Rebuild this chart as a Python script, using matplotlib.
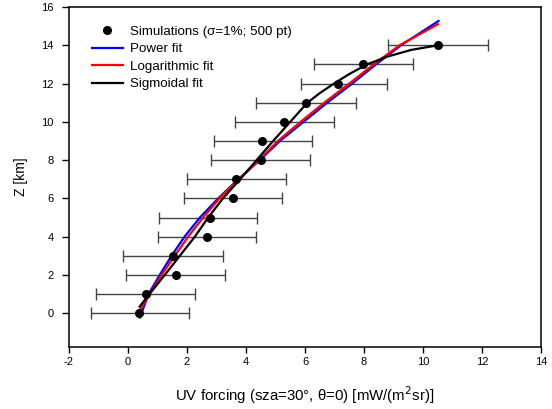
import numpy as np
import matplotlib
matplotlib.use("Agg")
import matplotlib.pyplot as plt

plt.rcParams["font.family"] = ["Liberation Sans", "DejaVu Sans"]
plt.rcParams["axes.unicode_minus"] = False

# simulated points (x = UV forcing, z = altitude)
z_pts = [0, 1, 2, 3, 4, 5, 6, 7, 8, 9, 10, 11, 12, 13, 14]
x_pts = [0.38, 0.60, 1.63, 1.53, 2.68, 2.78, 3.56, 3.66, 4.50, 4.56, 5.29, 6.05, 7.11, 7.98, 10.5]
bar_lo = [-1.25, -1.08, -0.06, -0.15, 1.03, 1.06, 1.91, 2.01, 2.83, 2.92, 3.62, 4.35, 5.86, 6.32, 8.82]
bar_hi = [2.07, 2.26, 3.29, 3.21, 4.34, 4.37, 5.23, 5.36, 6.16, 6.25, 6.97, 7.73, 8.78, 9.67, 12.19]

# fit curves
z_pow = [-0.22, 1, 2, 3, 4, 5, 6, 7, 8, 9, 10, 11, 12, 13, 14, 15.27]
x_pow = [0.41, 0.70, 1.08, 1.48, 1.92, 2.44, 3.06, 3.74, 4.47, 5.15, 5.95, 6.75, 7.60, 8.40, 9.25, 10.52]

z_log = [0.25, 1, 2, 3, 4, 5, 6, 7, 8, 9, 10, 11, 12, 13, 14, 15.1]
x_log = [0.44, 0.74, 1.14, 1.59, 2.04, 2.55, 3.10, 3.76, 4.44, 5.08, 5.85, 6.65, 7.50, 8.32, 9.20, 10.5]

z_sig = [0.35, 1, 2, 3, 4, 5, 6, 7, 8, 9, 10, 11, 11.5, 12, 12.5, 13, 13.41, 13.76, 14.0]
x_sig = [0.40, 0.73, 1.25, 1.76, 2.27, 2.72, 3.22, 3.80, 4.36, 4.92, 5.50, 6.08, 6.50, 6.98, 7.50, 8.10, 8.79, 9.60, 10.5]

fig = plt.figure(figsize=(5.52, 4.09), dpi=100)
ax = fig.add_axes([0.1245, 0.1516, 0.8561, 0.8313])

xp = np.array(x_pts)
xerr = [xp - np.array(bar_lo), np.array(bar_hi) - xp]
ax.errorbar(x_pts, z_pts, xerr=xerr, fmt="none", ecolor="#444444",
            elinewidth=1.0, capsize=4.5, capthick=1.0, zorder=2)

ax.plot(x_pts, z_pts, "o", color="black", ms=5.5, label="Simulations (\u03c3=1%; 500 pt)", zorder=4)
ax.plot(x_pow, z_pow, color="#0000ff", lw=1.6, label="Power fit", zorder=3)
ax.plot(x_log, z_log, color="#ff0000", lw=1.6, label="Logarithmic fit", zorder=3)
ax.plot(x_sig, z_sig, color="black", lw=1.6, label="Sigmoidal fit", zorder=3)

ax.set_xlim(-2, 14)
ax.set_ylim(-1.76, 16)
ax.set_xticks(np.arange(-2, 15, 2))
ax.set_yticks(np.arange(0, 17, 2))
ax.tick_params(axis="x", direction="out", length=4, width=1, labelsize=8, pad=3, top=False)
ax.tick_params(axis="y", direction="out", length=5, width=1, labelsize=8, pad=6, right=False)
for s in ax.spines.values():
    s.set_linewidth(1.1)

ax.set_xlabel("UV forcing (sza=30\u00b0, \u03b8=0) [mW/(m$^2$sr)]", fontsize=10.8, labelpad=13)
ax.set_ylabel("Z [km]", fontsize=10, labelpad=9)

ax.legend(loc="upper left", bbox_to_anchor=(0.049, 0.945), frameon=False,
          fontsize=9.6, handlelength=2.3, handletextpad=0.55, labelspacing=0.38,
          borderpad=0, borderaxespad=0, numpoints=1)

fig.savefig("out.png", dpi=100)
